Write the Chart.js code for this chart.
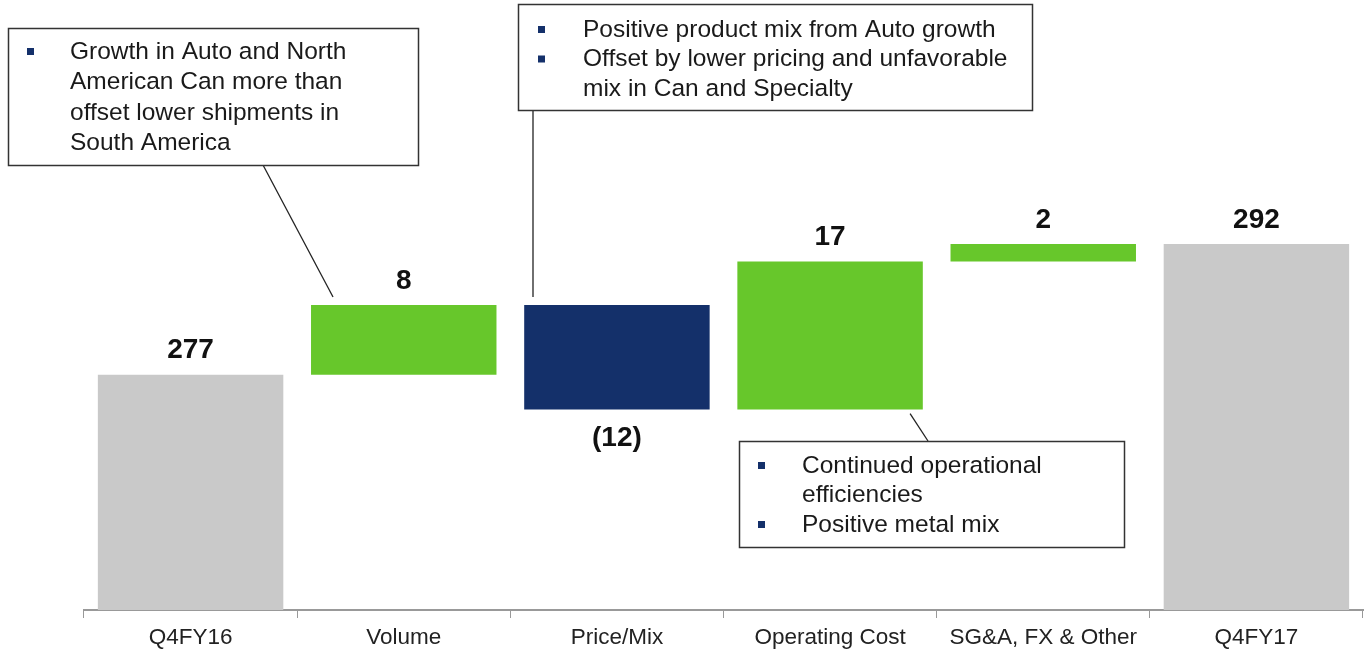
<!DOCTYPE html>
<html>
<head>
<meta charset="utf-8">
<script src="https://cdn.jsdelivr.net/npm/chart.js@4.4.1/dist/chart.umd.min.js"></script>
<style>
  html, body { margin: 0; padding: 0; background: #fff; }
  #wrap { width: 1367px; height: 654px; position: relative; }
</style>
</head>
<body>
<div id="wrap"><canvas id="chart1" width="1367" height="654"></canvas></div>
<script>
// data
var labels = ['Q4FY16', 'Volume', 'Price/Mix', 'Operating Cost', 'SG&A, FX & Other', 'Q4FY17'];
var changes = [277, 8, -12, 17, 2, 292];
var kinds = ['total', 'step', 'step', 'step', 'step', 'total'];
var valueText = ['277', '8', '(12)', '17', '2', '292'];
var axisMin = 250, axisMax = 320;

var notes1 = ['Growth in Auto and North', 'American Can more than', 'offset lower shipments in', 'South America'];
var notes2 = ['Positive product mix from Auto growth', 'Offset by lower pricing and unfavorable', 'mix in Can and Specialty'];
var notes3 = ['Continued operational', 'efficiencies', 'Positive metal mix'];

// build floating bars
var ranges = [];
var running = 0;
for (var i = 0; i < changes.length; i++) {
  if (kinds[i] == 'total') {
    ranges.push([axisMin, changes[i]]);
    running = changes[i];
  } else {
    ranges.push([running, running + changes[i]]);
    running = running + changes[i];
  }
}
var colors = changes.map(function (v, i) {
  if (kinds[i] == 'total') return '#c9c9c9';
  return v < 0 ? '#14306a' : '#67c72b';
});

function drawBox(ctx, x, y, w, h, lines, textX, bulletX, firstY, lineH, bullets) {
  ctx.save();
  ctx.fillStyle = '#fff';
  ctx.fillRect(x, y, w, h);
  ctx.strokeStyle = '#333';
  ctx.lineWidth = 1.5;
  ctx.strokeRect(x + 0.5, y + 0.5, w, h);
  ctx.font = '24.5px "Liberation Sans", Arial, sans-serif';
  ctx.textBaseline = 'middle';
  ctx.textAlign = 'left';
  for (var i = 0; i < lines.length; i++) {
    var ly = firstY + i * lineH;
    ctx.fillStyle = '#1a1a1a';
    ctx.fillText(lines[i], textX, ly);
    if (bullets.indexOf(i) >= 0) {
      ctx.fillStyle = '#14306a';
      ctx.fillRect(bulletX, ly - 4, 7, 7);
    }
  }
  ctx.restore();
}

function line(ctx, x1, y1, x2, y2) {
  ctx.save();
  ctx.strokeStyle = '#222';
  ctx.lineWidth = 1.3;
  ctx.beginPath();
  ctx.moveTo(x1, y1);
  ctx.lineTo(x2, y2);
  ctx.stroke();
  ctx.restore();
}

var extras = {
  id: 'extras',
  afterDatasetsDraw: function (chart) {
    var ctx = chart.ctx;
    var meta = chart.getDatasetMeta(0);
    // value labels
    ctx.save();
    ctx.font = 'bold 28px "Liberation Sans", Arial, sans-serif';
    ctx.fillStyle = '#111';
    ctx.textAlign = 'center';
    for (var i = 0; i < meta.data.length; i++) {
      var bar = meta.data[i];
      var top = Math.min(bar.y, bar.base), bottom = Math.max(bar.y, bar.base);
      if (changes[i] < 0) {
        ctx.textBaseline = 'top';
        ctx.fillText(valueText[i], bar.x, bottom + 15);
      } else {
        ctx.textBaseline = 'bottom';
        ctx.fillText(valueText[i], bar.x, top - 10);
      }
    }
    ctx.restore();

    // leader lines
    var b1 = meta.data[1], b2 = meta.data[2], b3 = meta.data[3];
    var b1top = Math.min(b1.y, b1.base), b2top = Math.min(b2.y, b2.base), b3bot = Math.max(b3.y, b3.base);
    line(ctx, 263, 165, b1.x - b1.width / 2 + 22, b1top - 8);
    line(ctx, 533, 110, 533, b2top - 8);
    line(ctx, b3.x + 80, b3bot + 4, 928, 441);

    drawBox(ctx, 8, 28, 410, 137, notes1, 70, 27, 52, 30.5, [0]);
    drawBox(ctx, 518, 4, 514, 106, notes2, 583, 538, 30, 29.5, [0, 1]);
    drawBox(ctx, 739, 441, 385, 106, notes3, 802, 758, 466, 29.5, [0, 2]);
  }
};

var ctxS = document.getElementById('chart1').getContext('2d');
var myChart = new Chart(ctxS, {
  type: 'bar',
  data: {
    labels: labels,
    datasets: [{
      data: ranges,
      backgroundColor: colors,
      borderWidth: 0,
      categoryPercentage: 1,
      barPercentage: 0.87
    }]
  },
  options: {
    responsive: false,
    animation: false,
    devicePixelRatio: 1,
    layout: { padding: { left: 84, right: 4, top: 0, bottom: 0 } },
    plugins: { legend: { display: false }, tooltip: { enabled: false } },
    scales: {
      x: {
        afterFit: function (scale) { scale.height = 44; },
        grid: { display: true, drawOnChartArea: false, drawTicks: true, tickLength: 8, color: '#999', offset: true },
        border: { color: '#999', width: 2 },
        ticks: { color: '#222', font: { size: 22.5, family: '"Liberation Sans", Arial, sans-serif' }, padding: 6, maxRotation: 0 }
      },
      y: {
        display: false,
        min: axisMin,
        max: axisMax
      }
    }
  },
  plugins: [extras]
});
</script>
</body>
</html>
